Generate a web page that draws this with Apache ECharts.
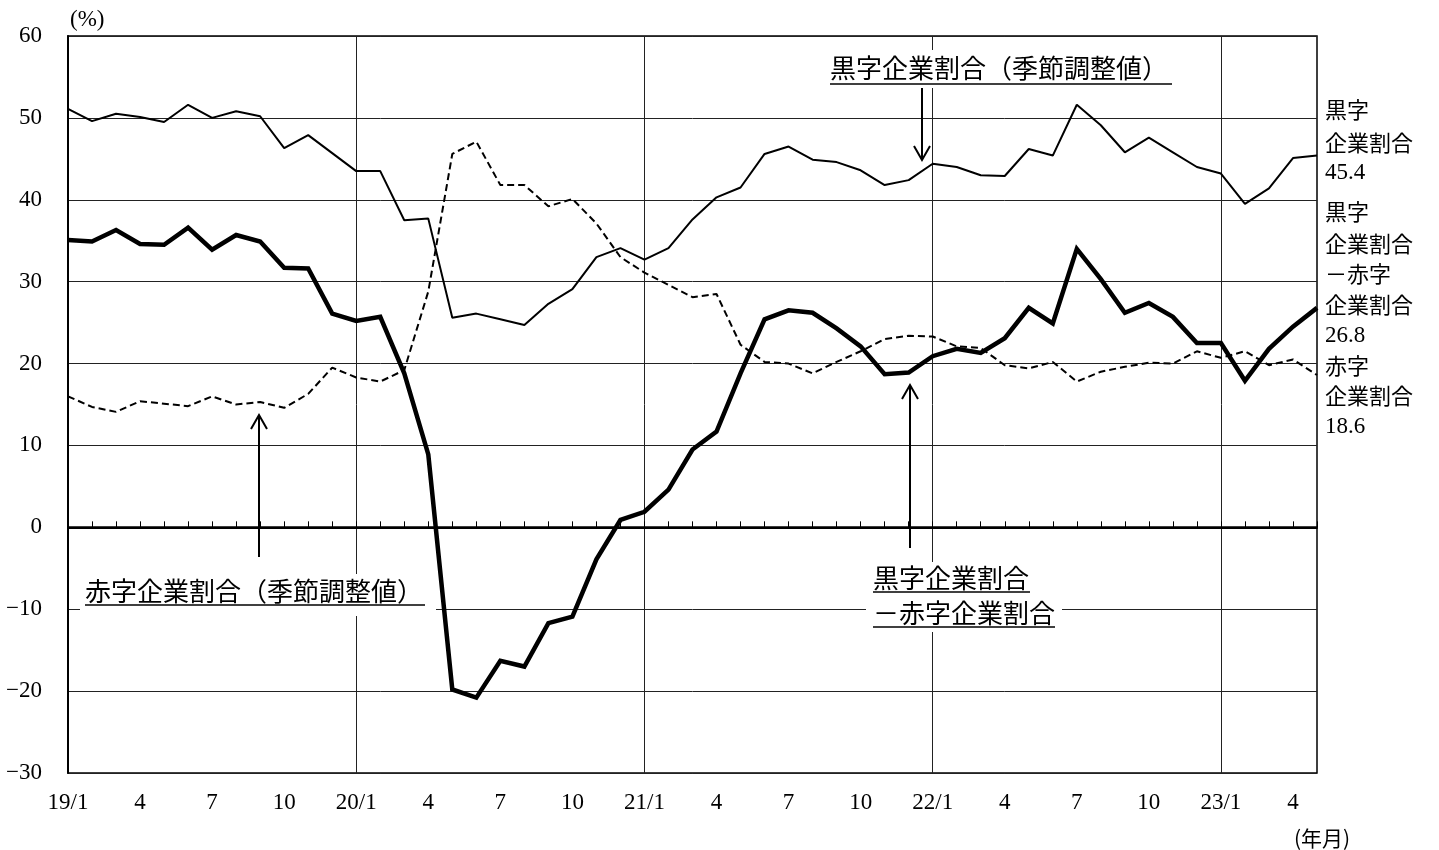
<!DOCTYPE html>
<html>
<head>
<meta charset="utf-8">
<title>黒字・赤字企業割合</title>
<script src="https://cdn.jsdelivr.net/npm/echarts@6/dist/echarts.min.js"></script>
<style>
  html, body { margin: 0; padding: 0; background: #fff; }
  #chart { width: 1439px; height: 850px; }
</style>
</head>
<body>
<div id="chart"></div>
<script>
// 月（19/1〜23/5）
const months = [
  '19/1', '2', '3', '4', '5', '6', '7', '8', '9', '10', '11', '12',
  '20/1', '2', '3', '4', '5', '6', '7', '8', '9', '10', '11', '12',
  '21/1', '2', '3', '4', '5', '6', '7', '8', '9', '10', '11', '12',
  '22/1', '2', '3', '4', '5', '6', '7', '8', '9', '10', '11', '12',
  '23/1', '2', '3', '4', '5'
]
// 黒字企業割合（季節調整値）
const profitShare = [
  51.1, 49.6, 50.5, 50.1, 49.5, 51.6, 50.0, 50.8, 50.2, 46.3, 47.9, 45.7,
  43.5, 43.5, 37.5, 37.7, 25.6, 26.1, 25.4, 24.7, 27.3, 29.1, 33.0, 34.1,
  32.7, 34.1, 37.6, 40.3, 41.5, 45.6, 46.5, 44.9, 44.6, 43.6, 41.8, 42.4,
  44.4, 44.0, 43.0, 42.9, 46.2, 45.4, 51.6, 49.1, 45.8, 47.6, 45.8, 44.0,
  43.2, 39.5, 41.4, 45.1, 45.4
]
// 赤字企業割合（季節調整値）
const lossShare = [
  16.0, 14.7, 14.1, 15.4, 15.1, 14.8, 16.0, 15.0, 15.3, 14.6, 16.3, 19.5,
  18.3, 17.8, 19.2, 28.8, 45.6, 47.1, 41.8, 41.8, 39.2, 40.1, 37.1, 33.0,
  31.1, 29.6, 28.1, 28.5, 22.3, 20.2, 20.0, 18.8, 20.2, 21.5, 23.0, 23.4,
  23.3, 22.1, 21.9, 19.8, 19.4, 20.2, 17.8, 19.0, 19.6, 20.1, 20.0, 21.5,
  20.7, 21.5, 19.8, 20.5, 18.6
]
// 黒字企業割合 − 赤字企業割合
const netShare = [
  35.1, 34.9, 36.3, 34.6, 34.5, 36.6, 33.9, 35.7, 34.9, 31.7, 31.6, 26.1,
  25.2, 25.7, 18.8, 8.9, -19.8, -20.8, -16.3, -17.0, -11.7, -10.9, -3.9, 0.9,
  1.9, 4.6, 9.5, 11.7, 18.8, 25.4, 26.5, 26.2, 24.3, 22.1, 18.7, 18.9,
  20.9, 21.8, 21.3, 23.1, 26.8, 24.9, 34.0, 30.3, 26.2, 27.4, 25.7, 22.5,
  22.5, 17.9, 21.8, 24.5, 26.8
]

const numFont = "'Liberation Serif', 'Noto Sans CJK JP', serif"
const jpFont = "'Noto Sans CJK JP', 'Liberation Serif', sans-serif"

// 注記テキスト
function label (text, x, y, size, font) {
  return {
    type: 'text', x: x, y: y, z: 5,
    style: { text: text, fontSize: size, fontFamily: font || jpFont, fill: '#000', align: 'left', verticalAlign: 'middle' }
  }
}
function hline (x1, x2, y, w) {
  return { type: 'line', z: 5, shape: { x1: x1, y1: y, x2: x2, y2: y }, style: { stroke: '#000', lineWidth: w || 1.5 } }
}
function arrow (x, yFrom, yTo) {
  const dir = yTo > yFrom ? -1 : 1
  return [
    { type: 'line', z: 5, shape: { x1: x, y1: yFrom, x2: x, y2: yTo }, style: { stroke: '#000', lineWidth: 2 } },
    { type: 'polyline', z: 5, shape: { points: [[x - 8, yTo + dir * 14], [x, yTo], [x + 8, yTo + dir * 14]] }, style: { stroke: '#000', lineWidth: 2, fill: null } }
  ]
}
function whiteBox (x, y, w, h) {
  return { type: 'rect', z: 1, shape: { x: x, y: y, width: w, height: h }, style: { fill: '#fff' } }
}

const myEchart = echarts.init(document.getElementById('chart'))
myEchart.setOption({
  animation: false,
  textStyle: { fontFamily: numFont },
  grid: {
    left: 68, top: 36, right: 122, bottom: 77,
    show: true, borderColor: '#000', borderWidth: 1.5
  },
  xAxis: {
    type: 'category',
    boundaryGap: false,
    data: months,
    axisLine: { lineStyle: { color: '#000', width: 2 } },
    axisTick: { show: true, inside: true, length: 6, interval: 0, lineStyle: { color: '#000', width: 1 } },
    axisLabel: {
      interval: (i) => i % 3 === 0,
      margin: 18,
      fontSize: 23,
      fontFamily: numFont,
      color: '#000'
    },
    splitLine: {
      show: true,
      interval: (i) => i % 12 === 0 && i > 0,
      lineStyle: { color: '#222', width: 1 }
    }
  },
  yAxis: {
    type: 'value',
    min: -30,
    max: 60,
    interval: 10,
    axisLine: { show: true, lineStyle: { color: '#000', width: 2 } },
    axisTick: { show: false },
    axisLabel: {
      margin: 26,
      fontSize: 23,
      fontFamily: numFont,
      color: '#000',
      formatter: (v) => (v < 0 ? '\u2212' + Math.abs(v) : String(v))
    },
    splitLine: { lineStyle: { color: '#222', width: 1 } }
  },
  series: [
    {
      name: '黒字企業割合（季節調整値）',
      type: 'line',
      data: profitShare,
      showSymbol: false,
      lineStyle: { color: '#000', width: 2 },
      z: 3
    },
    {
      name: '赤字企業割合（季節調整値）',
      type: 'line',
      data: lossShare,
      showSymbol: false,
      lineStyle: { color: '#000', width: 2, type: [7, 4] },
      z: 3
    },
    {
      name: '黒字企業割合−赤字企業割合',
      type: 'line',
      data: netShare,
      showSymbol: false,
      lineStyle: { color: '#000', width: 4.5, join: 'miter' },
      z: 4,
      markLine: {
        silent: true,
        symbol: 'none',
        label: { show: false },
        lineStyle: { color: '#000', width: 2.5, type: 'solid' },
        data: [{ yAxis: 0 }]
      }
    }
  ],
  graphic: [
    label('(%)', 70, 20, 23, numFont),
    label('(年月)', 1294, 838, 21),

    // 黒字企業割合（季節調整値）
    whiteBox(826, 50, 350, 38),
    label('黒字企業割合（季節調整値）', 830, 68, 26),
    hline(830, 1172, 84),
    ...arrow(922, 88, 160),

    // 赤字企業割合（季節調整値）
    whiteBox(80, 574, 356, 42),
    label('赤字企業割合（季節調整値）', 85, 591, 26),
    hline(85, 425, 605),
    ...arrow(259, 557, 415),

    // 黒字企業割合−赤字企業割合
    whiteBox(866, 562, 196, 70),
    label('黒字企業割合', 873, 578, 26),
    hline(873, 1030, 592),
    label('－赤字企業割合', 873, 613, 26),
    hline(873, 1055, 627),
    ...arrow(910, 548, 385),

    // 右側の最新値
    label('黒字', 1325, 110, 22),
    label('企業割合', 1325, 143, 22),
    label('45.4', 1325, 173, 23, numFont),
    label('黒字', 1325, 212, 22),
    label('企業割合', 1325, 244, 22),
    label('－赤字', 1325, 274, 22),
    label('企業割合', 1325, 305, 22),
    label('26.8', 1325, 336, 23, numFont),
    label('赤字', 1325, 366, 22),
    label('企業割合', 1325, 396, 22),
    label('18.6', 1325, 427, 23, numFont)
  ]
})
</script>
</body>
</html>
